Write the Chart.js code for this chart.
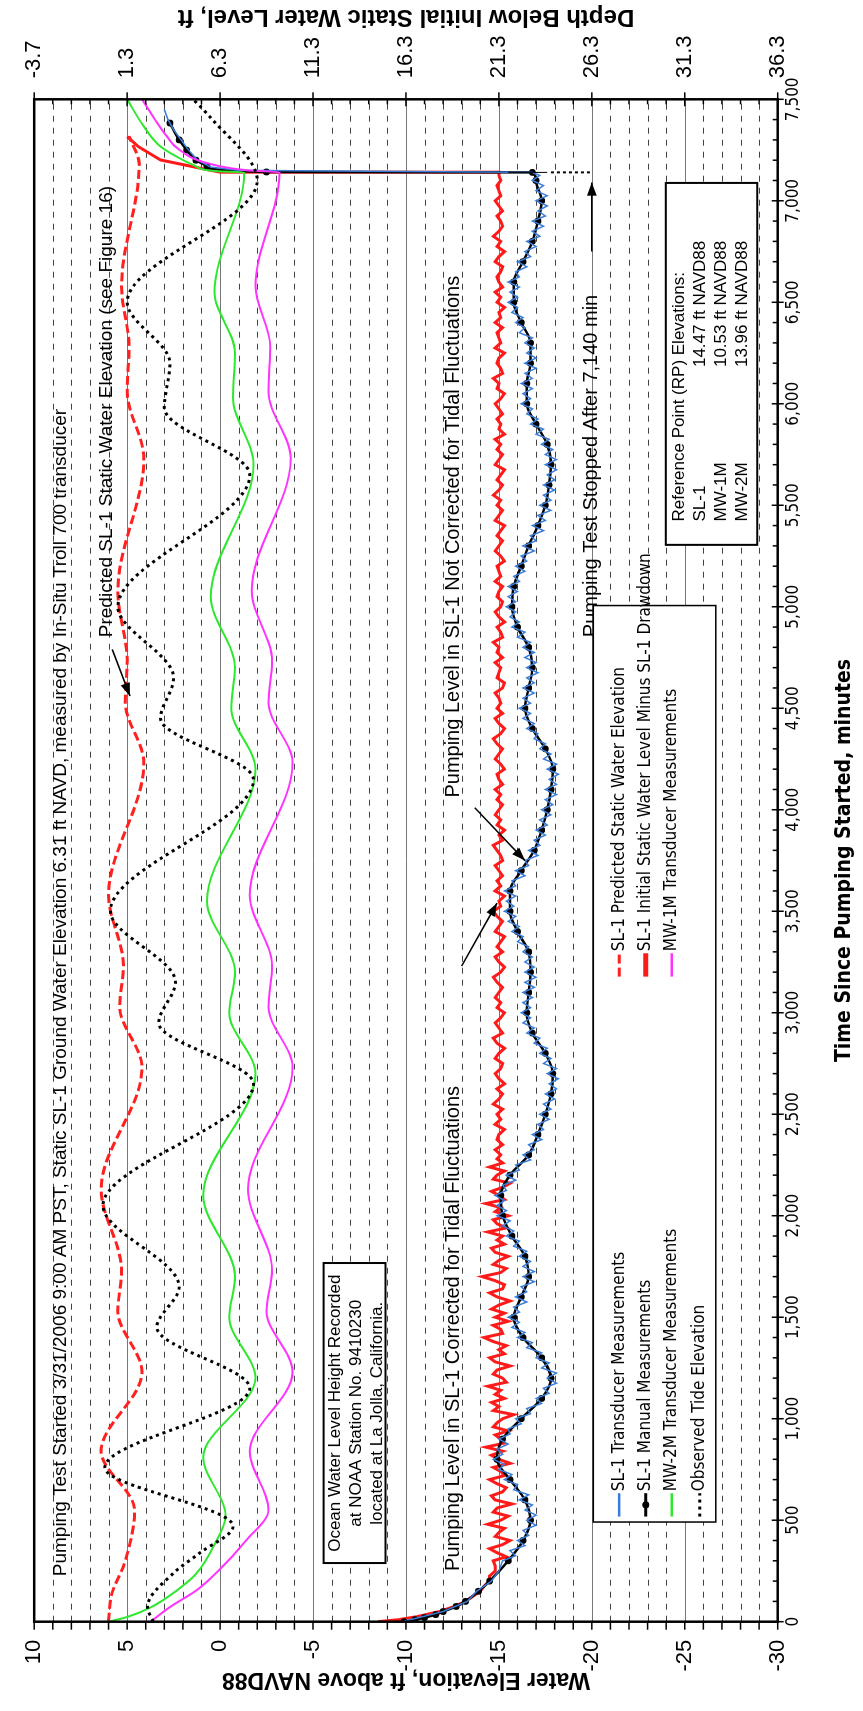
<!DOCTYPE html>
<html>
<head>
<meta charset="utf-8">
<script src="https://cdn.jsdelivr.net/npm/chart.js@4"></script>
<style>
html, body { margin: 0; padding: 0; background: #fff; width: 863px; height: 1711px; overflow: hidden; }
#wrap { position: absolute; left: 0; top: 0; width: 1711px; height: 863px; transform-origin: 0 0; transform: translate(0px, 1711px) rotate(-90deg); }
</style>
</head>
<body>
<div id="wrap"><canvas id="chart" width="1711" height="863"></canvas></div>
<script>
// tick labels
var elevLabels = [10, 5, 0, -5, -10, -15, -20, -25, -30]
var depthLabels = [-3.7, 1.3, 6.3, 11.3, 16.3, 21.3, 26.3, 31.3, 36.3]
var timeLabels = [0, 500, 1000, 1500, 2000, 2500, 3000, 3500, 4000, 4500, 5000, 5500, 6000, 6500, 7000, 7500]

// series: time in minutes, elevation in ft NAVD88
var tideTime = [0, 74, 240, 338, 470, 760, 1150, 1450, 1650, 2050, 2650, 2950, 3150, 3500, 4150, 4450, 4650, 5000, 5650, 5980, 6200, 6500, 7100, 7415, 7500]
var tideElev = [3.6, 3.9, 2.5, 1.1, -0.7, 6.2, -1.6, 3.4, 2.2, 6.3, -1.8, 3.3, 2.4, 5.9, -1.8, 3.2, 2.5, 5.5, -1.6, 3.0, 2.7, 5.0, -2.0, 0.56, 1.45]

var mw2Time = [0, 23, 72, 156, 240, 380, 520, 810, 1200, 1500, 1700, 2100, 2700, 3000, 3200, 3550, 4200, 4500, 4700, 5050, 5700, 6030, 6250, 6550, 7140, 7145, 7151, 7175, 7201, 7267, 7366, 7500]
var mw2Elev = [6.0, 5.0, 3.7, 2.3, 1.25, 0.3, -0.3, 0.9, -1.9, -0.5, -0.8, 0.9, -1.9, -0.5, -0.8, 0.7, -1.9, -0.6, -0.8, 0.5, -1.8, -0.7, -0.8, 0.3, -1.3, 0.0, 0.7, 1.4, 2.0, 3.2, 4.1, 5.0]

var mw1Time = [0, 72, 156, 250, 400, 550, 840, 1230, 1530, 1730, 2130, 2730, 3030, 3230, 3580, 4230, 4530, 4730, 5080, 5730, 6060, 6280, 6580, 7140, 7150, 7186, 7259, 7316, 7400, 7500]
var mw1Elev = [3.74, 2.7, 1.25, 0.1, -1.4, -2.6, -1.6, -3.9, -2.5, -2.8, -1.5, -3.9, -2.6, -2.8, -1.6, -3.9, -2.6, -2.8, -1.7, -3.8, -2.6, -2.7, -1.9, -3.2, -1.5, 0.7, 2.3, 2.85, 3.5, 4.2]

var predTime = [0, 130, 300, 550, 840, 1230, 1530, 1730, 2130, 2730, 3030, 3230, 3580, 4230, 4530, 4730, 5080, 5730, 6060, 6280, 6580, 7180, 7318]
var predElev = [6.0, 5.85, 5.1, 4.6, 6.4, 4.2, 5.5, 5.3, 6.4, 4.2, 5.4, 5.2, 6.0, 4.1, 5.1, 5.0, 5.5, 4.1, 5.0, 4.9, 5.3, 4.35, 4.9]

var manualTime = [0, 10, 20, 35, 50, 75, 100, 150, 200, 300, 400, 500, 600, 700, 800, 900, 1000, 1100, 1200, 1300, 1400, 1500, 1600, 1700, 1800, 1900, 2000, 2100, 2200, 2300, 2400, 2500, 2600, 2700, 2800, 2900, 3000, 3100, 3200, 3300, 3400, 3500, 3600, 3700, 3800, 3900, 4000, 4100, 4200, 4300, 4400, 4500, 4600, 4700, 4800, 4900, 5000, 5100, 5200, 5300, 5400, 5500, 5600, 5700, 5800, 5900, 6000, 6100, 6200, 6300, 6400, 6500, 6600, 6700, 6800, 6900, 7000, 7100, 7140, 7142, 7168, 7200, 7250, 7300, 7383]
var manualElev = [-9.9, -10.5, -11.0, -11.6, -12.0, -12.7, -13.2, -13.9, -14.5, -15.5, -16.3, -16.7, -16.4, -15.6, -14.9, -15.2, -16.2, -17.3, -17.8, -17.3, -16.3, -15.8, -16.2, -16.6, -16.4, -15.7, -15.2, -15.1, -15.6, -16.6, -17.1, -17.5, -17.8, -17.9, -17.5, -16.8, -16.5, -16.6, -16.7, -16.6, -16.0, -15.6, -15.6, -16.2, -16.9, -17.3, -17.6, -17.8, -17.9, -17.5, -16.8, -16.4, -16.6, -16.8, -16.6, -16.0, -15.7, -15.8, -16.2, -16.6, -17.1, -17.5, -17.7, -17.8, -17.6, -17.0, -16.5, -16.5, -16.7, -16.7, -16.2, -15.8, -15.8, -16.3, -16.8, -17.1, -17.3, -17.0, -16.8, -2.5, 0.7, 1.3, 1.8, 2.2, 2.7]

var transTime = [0, 50, 100, 150, 200, 250,
    300, 325, 350, 375, 400, 425, 450, 475, 500, 525, 550, 575, 600, 625, 650, 675, 700, 725, 750, 775, 800, 825, 850, 875, 900, 925, 950, 975,
    1000, 1025, 1050, 1075, 1100, 1125, 1150, 1175, 1200, 1225, 1250, 1275, 1300, 1325, 1350, 1375, 1400, 1425, 1450, 1475, 1500, 1525, 1550, 1575, 1600, 1625, 1650, 1675,
    1700, 1725, 1750, 1775, 1800, 1825, 1850, 1875, 1900, 1925, 1950, 1975, 2000, 2025, 2050, 2075, 2100, 2125, 2150, 2175, 2200, 2225, 2250, 2275, 2300, 2325, 2350, 2375,
    2400, 2425, 2450, 2475, 2500, 2525, 2550, 2575, 2600, 2625, 2650, 2675, 2700, 2725, 2750, 2775, 2800, 2825, 2850, 2875, 2900, 2925, 2950, 2975, 3000, 3025, 3050, 3075,
    3100, 3125, 3150, 3175, 3200, 3225, 3250, 3275, 3300, 3325, 3350, 3375, 3400, 3425, 3450, 3475, 3500, 3525, 3550, 3575, 3600, 3625, 3650, 3675, 3700, 3725, 3750, 3775,
    3800, 3825, 3850, 3875, 3900, 3925, 3950, 3975, 4000, 4025, 4050, 4075, 4100, 4125, 4150, 4175, 4200, 4225, 4250, 4275, 4300, 4325, 4350, 4375, 4400, 4425, 4450, 4475,
    4500, 4525, 4550, 4575, 4600, 4625, 4650, 4675, 4700, 4725, 4750, 4775, 4800, 4825, 4850, 4875, 4900, 4925, 4950, 4975, 5000, 5025, 5050, 5075, 5100, 5125, 5150, 5175,
    5200, 5225, 5250, 5275, 5300, 5325, 5350, 5375, 5400, 5425, 5450, 5475, 5500, 5525, 5550, 5575, 5600, 5625, 5650, 5675, 5700, 5725, 5750, 5775, 5800, 5825, 5850, 5875,
    5900, 5925, 5950, 5975, 6000, 6025, 6050, 6075, 6100, 6125, 6150, 6175, 6200, 6225, 6250, 6275, 6300, 6325, 6350, 6375, 6400, 6425, 6450, 6475, 6500, 6525, 6550, 6575,
    6600, 6625, 6650, 6675, 6700, 6725, 6750, 6775, 6800, 6825, 6850, 6875, 6900, 6925, 6950, 6975, 7000, 7025, 7050, 7075, 7100, 7125, 7140,
    7150, 7166, 7200, 7250, 7300, 7350, 7400, 7450]
var transElev = [-9.8, -12.0, -13.3, -13.8, -14.6, -15.0,
    -15.2, -15.9, -15.6, -16.4, -16.0, -16.6, -16.3, -17.0, -16.5, -17.0, -16.4, -16.8, -16.1, -16.6, -15.8, -16.0, -15.3, -15.7, -15.0, -15.3, -14.7, -15.2, -14.9, -15.5, -15.0, -15.6, -15.5, -16.2,
    -15.9, -16.7, -16.5, -17.3, -17.0, -17.7, -17.4, -18.1, -17.6, -18.1, -17.3, -17.7, -17.0, -17.3, -16.5, -16.8, -16.0, -16.4, -15.7, -16.1, -15.5, -16.1, -15.8, -16.5, -15.9, -16.5, -16.2, -16.9,
    -16.3, -16.9, -16.3, -16.7, -16.1, -16.5, -15.8, -16.1, -15.4, -15.8, -15.2, -15.6, -14.9, -15.4, -14.9, -15.3, -14.8, -15.4, -15.2, -15.9, -15.4, -16.1, -15.9, -16.7, -16.3, -16.9, -16.6, -17.3,
    -16.8, -17.4, -17.1, -17.7, -17.2, -17.8, -17.4, -18.0, -17.5, -18.1, -17.7, -18.2, -17.6, -18.1, -17.4, -17.8, -17.2, -17.6, -16.9, -17.2, -16.5, -16.9, -16.3, -16.7, -16.2, -16.7, -16.3, -16.8,
    -16.3, -16.9, -16.4, -17.0, -16.4, -16.9, -16.4, -16.8, -16.3, -16.6, -16.0, -16.3, -15.7, -16.1, -15.5, -15.9, -15.3, -15.8, -15.4, -15.9, -15.3, -15.9, -15.7, -16.4, -15.9, -16.6, -16.4, -17.1,
    -16.6, -17.2, -16.9, -17.5, -17.0, -17.6, -17.2, -17.8, -17.3, -17.9, -17.5, -18.1, -17.5, -18.1, -17.7, -18.2, -17.6, -18.1, -17.4, -17.8, -17.2, -17.5, -16.9, -17.1, -16.5, -16.9, -16.3, -16.7,
    -16.1, -16.7, -16.3, -16.9, -16.3, -16.9, -16.5, -17.1, -16.5, -17.0, -16.4, -16.9, -16.3, -16.7, -16.0, -16.4, -15.7, -16.1, -15.6, -15.9, -15.4, -15.9, -15.5, -16.0, -15.5, -16.1, -15.8, -16.4,
    -15.9, -16.5, -16.2, -16.9, -16.3, -17.0, -16.7, -17.4, -16.8, -17.5, -17.1, -17.8, -17.2, -17.8, -17.4, -18.0, -17.4, -18.0, -17.6, -18.1, -17.5, -18.1, -17.5, -17.9, -17.3, -17.7, -17.0, -17.4,
    -16.7, -17.1, -16.5, -16.8, -16.2, -16.7, -16.3, -16.8, -16.2, -16.8, -16.4, -17.0, -16.4, -17.0, -16.5, -16.9, -16.4, -16.8, -16.1, -16.4, -15.9, -16.3, -15.7, -16.0, -15.5, -16.0, -15.6, -16.1,
    -15.5, -16.1, -15.9, -16.5, -16.0, -16.7, -16.4, -17.0, -16.5, -17.2, -16.8, -17.4, -16.8, -17.5, -17.1, -17.6, -17.0, -17.6, -17.0, -17.4, -16.8, -17.2, -16.8,
    -1.0, 0.5, 1.2, 1.7, 2.1, 2.5, 2.8, 3.0]

var corrTime = [0, 10, 25, 50, 75, 100, 125, 150, 175, 200, 225, 250, 275,
    300, 320, 340, 360, 380, 400, 420, 440, 460, 480, 500, 520, 540, 560, 580, 600, 620, 640, 660, 680,
    700, 720, 740, 760, 780, 800, 820, 840, 860, 880, 900, 920, 940, 960, 980, 1000, 1020, 1040, 1060, 1080,
    1100, 1120, 1140, 1160, 1180, 1200, 1220, 1240, 1260, 1280, 1300, 1320, 1340, 1360, 1380, 1400, 1420, 1440, 1460, 1480,
    1500, 1520, 1540, 1560, 1580, 1600, 1620, 1640, 1660, 1680, 1700, 1720, 1740, 1760, 1780, 1800, 1820, 1840, 1860, 1880,
    1900, 1920, 1940, 1960, 1980, 2000, 2020, 2040, 2060, 2080, 2100, 2120, 2140, 2160, 2180, 2200, 2220, 2240, 2260, 2280,
    2300, 2325, 2350, 2375, 2400, 2425, 2450, 2475, 2500, 2525, 2550, 2575, 2600, 2625, 2650, 2675,
    2700, 2725, 2750, 2775, 2800, 2825, 2850, 2875, 2900, 2925, 2950, 2975, 3000, 3025, 3050, 3075,
    3100, 3125, 3150, 3175, 3200, 3225, 3250, 3275, 3300, 3325, 3350, 3375, 3400, 3425, 3450, 3475,
    3500, 3525, 3550, 3575, 3600, 3625, 3650, 3675, 3700, 3725, 3750, 3775, 3800, 3825, 3850, 3875,
    3900, 3925, 3950, 3975, 4000, 4025, 4050, 4075, 4100, 4125, 4150, 4175, 4200, 4225, 4250, 4275,
    4300, 4325, 4350, 4375, 4400, 4425, 4450, 4475, 4500, 4525, 4550, 4575, 4600, 4625, 4650, 4675,
    4700, 4725, 4750, 4775, 4800, 4825, 4850, 4875, 4900, 4925, 4950, 4975, 5000, 5025, 5050, 5075,
    5100, 5125, 5150, 5175, 5200, 5225, 5250, 5275, 5300, 5325, 5350, 5375, 5400, 5425, 5450, 5475,
    5500, 5525, 5550, 5575, 5600, 5625, 5650, 5675, 5700, 5725, 5750, 5775, 5800, 5825, 5850, 5875,
    5900, 5925, 5950, 5975, 6000, 6025, 6050, 6075, 6100, 6125, 6150, 6175, 6200, 6225, 6250, 6275,
    6300, 6325, 6350, 6375, 6400, 6425, 6450, 6475, 6500, 6525, 6550, 6575, 6600, 6625, 6650, 6675,
    6700, 6725, 6750, 6775, 6800, 6825, 6850, 6875, 6900, 6925, 6950, 6975, 7000, 7025, 7050, 7075,
    7100, 7125, 7139, 7141, 7151, 7201, 7267, 7316]
var corrElev = [-8.5, -9.6, -10.6, -11.8, -12.6, -13.2, -13.6, -14.0, -14.2, -14.5, -14.5, -14.8, -14.8,
    -14.7, -15.4, -14.9, -14.5, -15.2, -15.6, -14.8, -15.0, -15.3, -14.4, -15.1, -15.5, -14.7, -14.9, -15.7, -14.8, -14.6, -15.2, -15.4, -14.9,
    -14.5, -15.3, -15.1, -14.7, -15.6, -15.0, -14.6, -15.2, -14.3, -15.3, -15.1, -14.8, -15.5, -14.7, -14.9, -15.2, -15.8, -14.7, -15.0, -14.6,
    -15.3, -14.8, -15.1, -14.4, -15.4, -15.2, -14.7, -14.9, -15.6, -14.8, -14.5, -15.3, -15.0, -15.4, -14.7, -14.2, -15.2, -15.1, -14.7, -15.5,
    -14.8, -15.3, -14.6, -15.0, -15.6, -14.9, -14.5, -15.2, -15.3, -14.8, -14.1, -15.1, -15.4, -14.7, -15.0, -15.5, -14.8, -14.6, -15.3, -14.9,
    -15.2, -14.4, -15.4, -14.9, -14.7, -15.5, -14.8, -15.1, -14.3, -15.3, -15.0, -14.6, -15.2, -15.6, -14.7, -14.9, -15.3, -14.5, -15.2, -14.9,
    -15.1, -14.8, -15.2, -14.9, -15.0, -15.3, -14.8, -15.1, -14.9, -15.2, -14.7, -15.0, -15.2, -14.9, -15.3, -15.0,
    -14.8, -15.1, -15.2, -14.8, -15.0, -15.3, -14.9, -14.7, -15.2, -15.0, -14.8, -15.1, -15.3, -14.9, -15.1, -14.8,
    -15.0, -15.2, -14.9, -14.7, -15.1, -15.3, -15.0, -14.8, -15.2, -14.9, -15.1, -15.3, -14.8, -15.0, -15.2, -14.9,
    -14.7, -15.1, -15.0, -15.3, -14.8, -15.1, -14.9, -15.2, -15.0, -14.8, -15.2, -15.1, -14.9, -14.7, -15.2, -15.0,
    -15.3, -14.9, -15.1, -14.8, -15.0, -15.2, -14.9, -15.1, -14.8, -15.2, -15.0, -14.9, -15.3, -15.1, -14.8, -15.0,
    -15.2, -14.9, -14.7, -15.1, -15.3, -15.0, -14.8, -15.2, -14.9, -15.1, -15.0, -14.8, -15.2, -15.3, -14.9, -15.0,
    -15.1, -14.8, -15.2, -14.9, -15.0, -14.7, -15.2, -15.1, -14.9, -15.3, -15.0, -14.8, -15.1, -15.2, -14.9, -15.0,
    -15.2, -14.8, -15.1, -15.0, -14.9, -15.3, -15.1, -14.8, -15.0, -15.2, -14.9, -15.1, -15.3, -14.8, -15.0, -15.2,
    -14.9, -15.1, -14.7, -15.0, -15.2, -14.9, -15.1, -15.3, -14.8, -15.0, -15.2, -14.9, -15.1, -14.8, -15.3, -15.0,
    -15.1, -14.9, -15.2, -15.0, -14.8, -15.1, -15.3, -14.9, -15.0, -14.7, -15.2, -15.1, -14.9, -15.0, -15.3, -14.8,
    -15.1, -15.0, -14.9, -15.2, -14.8, -15.1, -15.0, -15.3, -14.9, -15.1, -14.8, -15.2, -15.0, -14.9, -15.1, -15.2,
    -14.8, -15.0, -15.3, -14.9, -15.1, -14.7, -15.0, -15.2, -15.1, -14.9, -15.2, -15.0, -14.8, -15.1, -15.0, -14.9,
    -15.1, -15.0, -15.0, 0.0, 0.55, 3.2, 4.4, 5.0]

function pts(ts, vs) {
    return ts.map(function (t, i) { return { x: t, y: vs[i] } })
}

var narrow = "'Liberation Sans Narrow', 'Arial Narrow', 'DejaVu Sans Condensed', sans-serif"
var regular = "'Liberation Sans', Arial, sans-serif"

function stepTicks(min, max) {
    var out = []
    for (var i = 0; i <= Math.round(max - min); i++) out.push({ value: Math.round((min + i) * 10) / 10 })
    return out
}

var decor = {
    id: 'decor',
    beforeDatasetsDraw: function (chart) {
        var ctx = chart.ctx, a = chart.chartArea, ys = chart.scales.y
        ctx.save()
        for (var e = -29; e <= 9; e++) {
            var y = Math.round(ys.getPixelForValue(e)) + 0.5
            ctx.beginPath()
            if (e % 5 == 0) { ctx.setLineDash([]); ctx.strokeStyle = '#777' }
            else { ctx.setLineDash([6, 6]); ctx.strokeStyle = '#444' }
            ctx.lineWidth = 1
            ctx.moveTo(a.left, y); ctx.lineTo(a.right, y); ctx.stroke()
        }
        ctx.restore()
    },
    afterDatasetsDraw: function (chart) {
        var ctx = chart.ctx, a = chart.chartArea
        var xs = chart.scales.x, ys = chart.scales.y, ds = chart.scales.y2
        var X = function (t) { return xs.getPixelForValue(t) }
        var Y = function (e) { return ys.getPixelForValue(e) }
        ctx.save()
        ctx.setLineDash([])
        ctx.strokeStyle = '#000'
        // tick marks
        ctx.lineWidth = 1.5
        for (var e = -30; e <= 10; e++) {
            var y = Y(e)
            ctx.beginPath(); ctx.moveTo(a.left - 8, y); ctx.lineTo(a.left, y); ctx.stroke()
        }
        for (var d = 0; d <= 40; d++) {
            var yd = ds.getPixelForValue(-3.7 + d)
            ctx.beginPath()
            if (d % 5 == 0) { ctx.moveTo(a.right - 7, yd); ctx.lineTo(a.right + 7, yd) }
            else { ctx.moveTo(a.right - 5, yd); ctx.lineTo(a.right, yd) }
            ctx.stroke()
        }
        for (var t = 0; t <= 7500; t += 100) {
            var x = X(t)
            ctx.beginPath()
            if (t % 500 == 0) { ctx.moveTo(x, a.bottom - 6); ctx.lineTo(x, a.bottom + 6) }
            else { ctx.moveTo(x, a.bottom - 5); ctx.lineTo(x, a.bottom) }
            ctx.stroke()
        }
        // frame
        ctx.lineWidth = 2.5
        ctx.strokeRect(a.left, a.top, a.right - a.left, a.bottom - a.top)

        // right axis title
        ctx.save()
        ctx.translate(1694, (a.top + a.bottom) / 2)
        ctx.rotate(-Math.PI / 2)
        ctx.fillStyle = '#000'
        ctx.font = 'bold 24px ' + regular
        ctx.textAlign = 'center'; ctx.textBaseline = 'middle'
        ctx.fillText('Depth Below Initial Static Water Level, ft', 0, 0)
        ctx.restore()

        // notes
        ctx.fillStyle = '#000'
        ctx.textBaseline = 'middle'
        ctx.textAlign = 'left'
        ctx.font = '19px ' + regular
        ctx.fillText('Pumping Test Started 3/31/2006 9:00 AM PST, Static SL-1 Ground Water Elevation 6.31 ft NAVD, measured by In-Situ Troll 700 transducer', X(224), Y(8.55))
        ctx.fillText('Predicted SL-1 Static Water Elevation (see Figure 16)', X(4850), Y(6.1))
        ctx.font = '20px ' + regular
        ctx.fillText('Pumping Level in SL-1 Corrected for Tidal Fluctuations', X(250), Y(-12.55))
        ctx.fillText('Pumping Level in SL-1 Not Corrected for Tidal Fluctuations', X(4060), Y(-12.55))
        ctx.fillText('Pumping Test Stopped After 7,140 min', X(4850), Y(-20.0))

        function arrow(t0, e0, t1, e1) {
            var x0 = X(t0), y0 = Y(e0), x1 = X(t1), y1 = Y(e1)
            var ang = Math.atan2(y1 - y0, x1 - x0)
            ctx.lineWidth = 1.5
            ctx.beginPath(); ctx.moveTo(x0, y0); ctx.lineTo(x1, y1); ctx.stroke()
            ctx.beginPath()
            ctx.moveTo(x1, y1)
            ctx.lineTo(x1 - 14 * Math.cos(ang - 0.35), y1 - 14 * Math.sin(ang - 0.35))
            ctx.lineTo(x1 - 14 * Math.cos(ang + 0.35), y1 - 14 * Math.sin(ang + 0.35))
            ctx.closePath(); ctx.fill()
        }
        arrow(3230, -13.0, 3540, -14.9)
        arrow(4010, -13.7, 3750, -16.4)
        arrow(4790, 5.8, 4560, 4.85)
        arrow(6750, -20.0, 7090, -20.0)
        // stop marker
        ctx.lineWidth = 1
        ctx.beginPath(); ctx.moveTo(X(7140), Y(-15.5)); ctx.lineTo(X(7140), Y(-17.6)); ctx.stroke()
        ctx.setLineDash([3, 3]); ctx.lineWidth = 2
        ctx.beginPath(); ctx.moveTo(X(7140), Y(-17.8)); ctx.lineTo(X(7140), Y(-20)); ctx.stroke()
        ctx.setLineDash([])

        // NOAA box
        ctx.lineWidth = 2
        ctx.fillStyle = '#fff'
        ctx.fillRect(X(289), Y(-5.57), X(1767) - X(289), Y(-8.9) - Y(-5.57))
        ctx.strokeRect(X(289), Y(-5.57), X(1767) - X(289), Y(-8.9) - Y(-5.57))
        ctx.fillStyle = '#000'
        ctx.font = '17px ' + regular
        ctx.textAlign = 'center'
        ctx.fillText('Ocean Water Level Height Recorded', X(1027), Y(-6.2))
        ctx.fillText('at NOAA Station No. 9410230', X(1027), Y(-7.35))
        ctx.fillText('located at La Jolla, California.', X(1027), Y(-8.45))

        // RP box
        ctx.fillStyle = '#fff'
        ctx.fillRect(X(5305), Y(-23.98), X(7088) - X(5305), Y(-28.9) - Y(-23.98))
        ctx.strokeRect(X(5305), Y(-23.98), X(7088) - X(5305), Y(-28.9) - Y(-23.98))
        ctx.fillStyle = '#000'
        ctx.textAlign = 'left'
        ctx.fillText('Reference Point (RP) Elevations:', X(5420), Y(-24.7))
        var rp = [['SL-1', '14.47 ft NAVD88'], ['MW-1M', '10.53 ft NAVD88'], ['MW-2M', '13.96 ft NAVD88']]
        rp.forEach(function (r, i) {
            ctx.fillText(r[0], X(5420), Y(-25.85 - i * 1.12))
            ctx.fillText(r[1], X(6181), Y(-25.85 - i * 1.12))
        })

        // legend
        ctx.fillStyle = '#fff'
        ctx.fillRect(X(491), Y(-20.08), X(5006) - X(491), Y(-26.67) - Y(-20.08))
        ctx.lineWidth = 1.5
        ctx.strokeRect(X(491), Y(-20.08), X(5006) - X(491), Y(-26.67) - Y(-20.08))
        var leg = [
            [518, -21.47, 'SL-1 Transducer Measurements', '#3a7dd8', 2.5, [], false],
            [518, -22.9, 'SL-1 Manual Measurements', '#000', 3, [], true],
            [518, -24.3, 'MW-2M Transducer Measurements', '#2ee82e', 2.5, [], false],
            [518, -25.8, 'Observed Tide Elevation', '#000', 3, [3, 4], false],
            [3178, -21.47, 'SL-1 Predicted Static Water Elevation', '#ff2020', 3, [9, 4], false],
            [3178, -22.9, 'SL-1 Initial Static Water Level Minus SL-1 Drawdown', '#ff1a1a', 5, [], false],
            [3178, -24.3, 'MW-1M Transducer Measurements', '#ff33ff', 2.5, [], false]
        ]
        ctx.font = '17px ' + narrow
        leg.forEach(function (l) {
            var x0 = X(l[0]), x1 = X(l[0] + 115), y = Y(l[1])
            ctx.strokeStyle = l[3]; ctx.lineWidth = l[4]; ctx.setLineDash(l[5])
            ctx.beginPath(); ctx.moveTo(x0, y); ctx.lineTo(x1, y); ctx.stroke()
            ctx.setLineDash([])
            if (l[6]) { ctx.fillStyle = '#000'; ctx.beginPath(); ctx.arc((x0 + x1) / 2, y, 3.5, 0, Math.PI * 2); ctx.fill() }
            ctx.fillStyle = '#000'
            ctx.fillText(l[2], x1 + 2, y)
        })
        ctx.restore()
    }
}

var chart = new Chart(document.getElementById('chart').getContext('2d'), {
    type: 'line',
    data: {
        datasets: [
            { label: 'Observed Tide Elevation', data: pts(tideTime, tideElev), borderColor: '#000', borderWidth: 3, borderDash: [3, 4], pointRadius: 0, cubicInterpolationMode: 'monotone' },
            { label: 'MW-2M Transducer Measurements', data: pts(mw2Time, mw2Elev), borderColor: '#2ee82e', borderWidth: 2, pointRadius: 0, cubicInterpolationMode: 'monotone' },
            { label: 'MW-1M Transducer Measurements', data: pts(mw1Time, mw1Elev), borderColor: '#ff33ff', borderWidth: 2, pointRadius: 0, cubicInterpolationMode: 'monotone' },
            { label: 'SL-1 Predicted Static Water Elevation', data: pts(predTime, predElev), borderColor: '#ff2020', borderWidth: 3, borderDash: [9, 4], pointRadius: 0, cubicInterpolationMode: 'monotone' },
            { label: 'SL-1 Transducer Measurements', data: pts(transTime, transElev), borderColor: '#3a7dd8', borderWidth: 1.5, pointRadius: 0, tension: 0 },
            { label: 'SL-1 Manual Measurements', data: pts(manualTime, manualElev), borderColor: '#000', backgroundColor: '#000', borderWidth: 2.5, pointRadius: 2.2, cubicInterpolationMode: 'monotone' },
            { label: 'SL-1 Initial Static Water Level Minus SL-1 Drawdown', data: pts(corrTime, corrElev), borderColor: '#ff1a1a', borderWidth: 3, pointRadius: 0, tension: 0 }
        ]
    },
    options: {
        responsive: false,
        animation: false,
        devicePixelRatio: 1,
        layout: { padding: { top: 21.7, left: 0, right: 0, bottom: 0 } },
        plugins: { legend: { display: false }, tooltip: { enabled: false } },
        scales: {
            x: {
                type: 'linear', position: 'bottom', min: 0, max: 7500,
                afterBuildTicks: function (s) { s.ticks = stepTicks(0, 75).map(function (t) { return { value: t.value * 100 } }) },
                afterFit: function (s) { s.height = 85.3 },
                grid: { display: false, drawTicks: false },
                border: { display: false },
                ticks: {
                    autoSkip: false, maxRotation: 0, padding: 6, color: '#000',
                    font: { family: narrow, size: 17 },
                    callback: function (v) { return timeLabels.indexOf(v) >= 0 ? v.toLocaleString('en-US') : '' }
                },
                title: { display: true, text: 'Time Since Pumping Started, minutes', color: '#000', font: { family: narrow, size: 21, weight: 'bold' }, padding: { top: 0, bottom: 6 } }
            },
            y: {
                type: 'linear', position: 'left', min: -30, max: 10,
                afterBuildTicks: function (s) { s.ticks = stepTicks(-30, 10) },
                afterFit: function (s) { s.width = 89.3 },
                grid: { display: false, drawTicks: false },
                border: { display: false },
                ticks: {
                    autoSkip: false, padding: 18, color: '#000',
                    font: { family: regular, size: 22 },
                    callback: function (v) { return elevLabels.indexOf(v) >= 0 ? String(v) : '' }
                },
                title: { display: true, text: 'Water Elevation, ft above NAVD88', color: '#000', font: { family: regular, size: 23, weight: 'bold' }, padding: { top: 18, bottom: 0 } }
            },
            y2: {
                type: 'linear', position: 'right', min: -3.7, max: 36.3, reverse: true,
                afterBuildTicks: function (s) { s.ticks = stepTicks(-3.7, 36.3) },
                afterFit: function (s) { s.width = 99.3 },
                grid: { display: false, drawTicks: false },
                border: { display: false },
                ticks: {
                    autoSkip: false, padding: 21, color: '#000',
                    font: { family: regular, size: 22 },
                    callback: function (v) { return depthLabels.indexOf(v) >= 0 ? v.toFixed(1) : '' }
                }
            }
        }
    },
    plugins: [decor]
})
</script>
</body>
</html>
